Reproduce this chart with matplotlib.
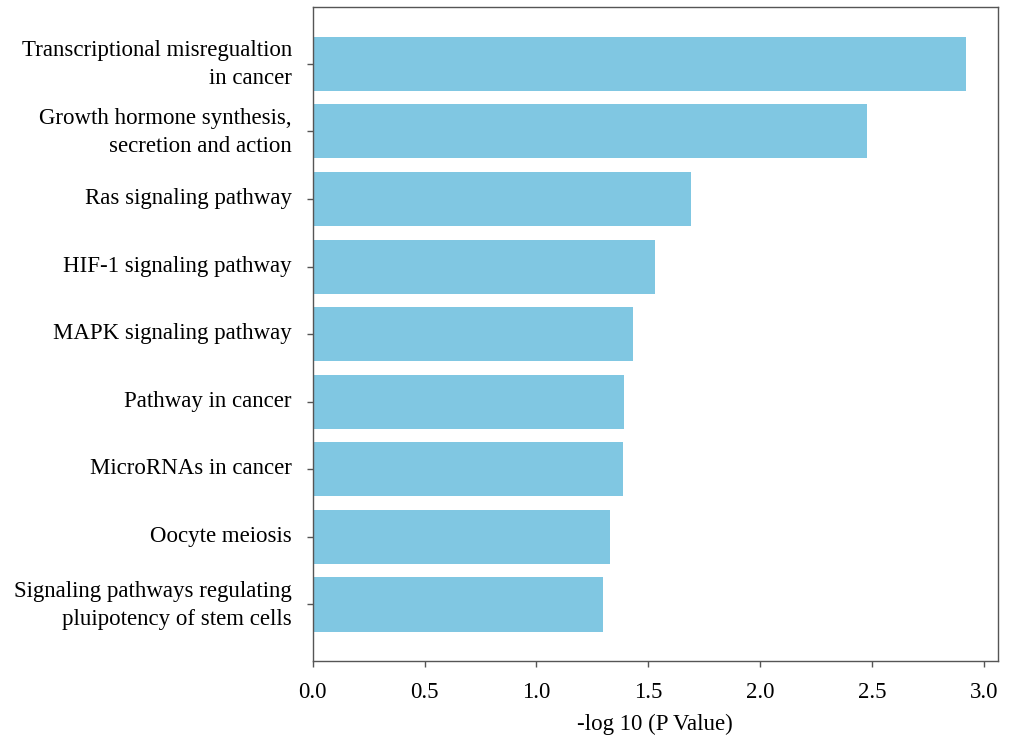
import matplotlib.pyplot as plt
import matplotlib.transforms as mtransforms

plt.rcParams['font.family'] = ['Liberation Serif', 'DejaVu Serif']

# KEGG 通路富集结果
pathways = ['Transcriptional misregualtion\nin cancer',
            'Growth hormone synthesis,\nsecretion and action',
            'Ras signaling pathway',
            'HIF-1 signaling pathway',
            'MAPK signaling pathway',
            'Pathway in cancer',
            'MicroRNAs in cancer',
            'Oocyte meiosis',
            'Signaling pathways regulating\npluipotency of stem cells']
neg_log_p = [2.92, 2.48, 1.69, 1.53, 1.43, 1.39, 1.385, 1.33, 1.30]
xticks = [0.0, 0.5, 1.0, 1.5, 2.0, 2.5, 3.0]

fig = plt.figure(figsize=(10.12, 7.38), dpi=100)
ax = fig.add_axes([0.309, 0.104, 0.677, 0.8865])

y = list(range(len(pathways)))[::-1]
ax.barh(y, neg_log_p, height=0.8, color='#80C7E2')

ax.set_yticks(y)
ax.set_yticklabels(pathways, fontsize=16.5, linespacing=1.42)
ax.set_xticks(xticks)
ax.set_xticklabels([f'{v:.1f}' for v in xticks], fontsize=16.5)
ax.set_xlim(0, 3.063)
ax.set_xlabel('-log 10 (P Value)', fontsize=16.5, labelpad=8)

for s in ax.spines.values():
    s.set_color('#555555')
    s.set_linewidth(1.0)
ax.tick_params(colors='#555555', labelcolor='black', length=4, width=1)
ax.tick_params(axis='y', pad=11)
ax.tick_params(axis='x', pad=11)

# 纵轴标签略微上移
for lab in ax.get_yticklabels():
    shift = 5 if '\n' in lab.get_text() else 3
    offset = mtransforms.ScaledTranslation(0, shift / 100, fig.dpi_scale_trans)
    lab.set_transform(lab.get_transform() + offset)

plt.savefig('out.png', dpi=100)
